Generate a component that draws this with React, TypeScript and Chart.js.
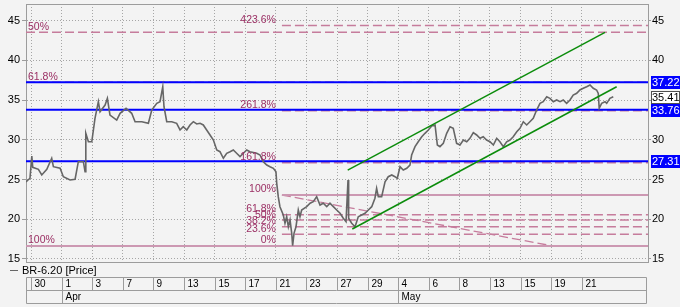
import React, { useEffect, useRef } from 'react';
import { Chart, registerables } from 'chart.js';

Chart.register(...registerables);

// ---- data ----
const dayIdx = [0, 2, 4, 6, 8, 10, 12, 14, 16, 18, 20, 22, 24, 26, 28, 30, 32, 34, 36];
const dayLabels = ['30', '1', '3', '7', '9', '13', '15', '17', '21', '23', '27', '29', '4', '6', '8', '13', '15', '19', '21'];
const monthIdx = [2, 24];
const monthLabels = ['Apr', 'May'];
const yTicks = [15, 20, 25, 30, 35, 40, 45];
const xMin = -0.33;
const xMax = 40.33;
const yMin = 14.62;
const yMax = 47.08;

const seriesName = 'BR-6.20 [Price]';

const priceX = [-0.33, -0.2, -0.07, 0.05, 0.11, 0.48, 0.7, 1.03, 1.35, 1.46, 1.9, 2.11, 2.55, 2.88, 3.09, 3.42, 3.53, 3.58, 3.75, 3.97, 4.18, 4.4, 4.51, 4.84, 4.99, 5.16, 5.6, 5.82, 6.21, 6.58, 6.8, 7.24, 7.67, 7.89, 8.22, 8.43, 8.61, 8.69, 8.87, 9.2, 9.52, 9.74, 9.95, 10.18, 10.39, 10.61, 10.83, 11.05, 11.26, 11.48, 11.7, 11.92, 12.14, 12.35, 12.57, 12.79, 13.01, 13.22, 13.44, 13.66, 13.88, 14.1, 14.31, 14.75, 14.97, 15.18, 15.41, 15.62, 15.84, 16.01, 16.06, 16.16, 16.27, 16.49, 16.6, 16.71, 16.82, 16.93, 17.04, 17.1, 17.19, 17.32, 17.47, 17.58, 17.69, 18.02, 18.24, 18.45, 18.67, 18.89, 19.1, 19.33, 19.54, 19.76, 19.98, 20.2, 20.41, 20.59, 20.72, 20.76, 20.96, 21.18, 21.39, 21.61, 21.83, 22.05, 22.27, 22.48, 22.59, 22.7, 22.92, 23.14, 23.35, 23.58, 23.79, 23.94, 24.12, 24.33, 24.56, 24.77, 24.88, 25.1, 25.31, 25.54, 25.75, 25.97, 26.19, 26.41, 26.56, 26.73, 26.95, 27.17, 27.39, 27.6, 27.82, 28.04, 28.26, 28.48, 28.69, 28.91, 29.13, 29.35, 29.56, 29.78, 30.0, 30.22, 30.44, 30.65, 30.87, 31.09, 31.31, 31.52, 31.75, 31.96, 32.18, 32.4, 32.61, 32.83, 33.05, 33.27, 33.48, 33.71, 33.92, 34.14, 34.36, 34.58, 34.79, 35.01, 35.23, 35.44, 35.67, 35.88, 36.1, 36.32, 36.54, 36.75, 36.97, 37.08, 37.14, 37.3, 37.52, 37.63, 37.84, 38.06];
const priceY = [24.69, 24.94, 25.15, 27.96, 26.53, 26.28, 25.57, 26.28, 27.67, 26.61, 26.41, 25.35, 24.94, 25.03, 27.24, 27.24, 25.98, 30.81, 29.75, 29.75, 32.7, 34.79, 33.53, 34.37, 35.21, 33.11, 32.48, 33.33, 33.96, 33.33, 32.27, 32.27, 32.07, 33.74, 34.58, 34.79, 36.67, 34.16, 32.27, 32.27, 32.07, 31.23, 31.64, 31.23, 31.86, 32.27, 31.98, 32.07, 31.86, 31.23, 30.6, 29.97, 28.71, 28.5, 27.67, 28.3, 28.5, 28.71, 28.3, 27.87, 28.3, 28.71, 28.5, 28.3, 28.08, 27.24, 26.82, 26.61, 26.41, 25.98, 24.52, 22.84, 21.58, 20.53, 19.49, 20.32, 19.06, 19.91, 18.23, 16.67, 18.23, 19.06, 21.16, 20.32, 21.16, 21.58, 22.01, 22.21, 22.84, 21.79, 22.01, 21.58, 22.01, 21.58, 21.16, 20.75, 20.12, 19.69, 24.94, 20.12, 19.49, 19.06, 20.32, 20.53, 20.75, 21.16, 21.58, 22.64, 23.89, 22.84, 22.84, 24.72, 25.35, 25.57, 25.35, 25.15, 26.61, 26.19, 26.41, 26.82, 28.08, 29.13, 29.75, 30.38, 30.81, 31.23, 31.73, 31.86, 29.34, 29.13, 29.55, 30.81, 31.64, 31.44, 29.55, 29.34, 29.97, 29.75, 30.18, 30.9, 30.6, 30.18, 30.38, 29.97, 29.75, 29.34, 30.18, 29.75, 29.13, 29.75, 29.97, 30.38, 31.01, 31.44, 32.27, 31.86, 32.27, 32.7, 33.74, 34.58, 34.79, 35.42, 35.21, 34.79, 35.0, 34.79, 35.0, 34.58, 35.0, 35.63, 35.84, 36.26, 36.47, 36.67, 36.89, 36.47, 36.26, 35.84, 33.96, 34.58, 34.79, 34.58, 35.21, 35.41];

const lastPrice = 35.41;
const blueLevels = [37.22, 33.76, 27.31];

const fibAStart = -0.33;
const fibALabels = ['100%', '61.8%', '50%'];
const fibAValues = [16.64, 37.22, 43.52];
const fibASolid = [true, false, false];

const fibBStart = 16.4;
const fibBLabels = ['0%', '23.6%', '38.2%', '50%', '61.8%', '100%', '161.8%', '261.8%', '423.6%'];
const fibBValues = [16.64, 18.1, 19.06, 19.9, 20.57, 23.05, 27.12, 33.66, 44.38];
const fibBSolid = [true, false, false, false, false, true, false, false, false];

const fanX = [16.4, 34.1];
const fanY = [23.05, 16.64];
const upperX = [20.7, 37.52];
const upperY = [26.19, 43.52];
const lowerX = [21.0, 38.28];
const lowerY = [18.77, 36.67];

// ---- styling ----
const FONT = "'Liberation Sans', Arial, sans-serif";
const BG = '#f3f3f3';
const GRID = '#a6a6a6';
const FRAME = '#9c9c9c';
const PINK_DASH = '#c67c9c';
const PINK_SOLID = '#cc98b2';
const PINK_TEXT = '#9b2f64';
const BLUE = '#0000ff';
const GREEN = '#0b8c0b';
const PRICE = '#666666';

function seg(xs: number[], ys: number[]) {
  return xs.map((x, i) => ({ x, y: ys[i] }));
}

const bgPlugin = {
  id: 'bg',
  beforeDraw(chart: any) {
    const ctx = chart.ctx;
    ctx.save();
    ctx.fillStyle = BG;
    ctx.fillRect(0, 0, chart.width, chart.height);
    ctx.restore();
  },
};

const overlayPlugin = {
  id: 'overlay',
  afterDraw(chart: any) {
    const ctx: CanvasRenderingContext2D = chart.ctx;
    const xs = chart.scales.x;
    const ys = chart.scales.y;
    const a = chart.chartArea;
    ctx.save();

    // frame top/bottom
    ctx.strokeStyle = FRAME;
    ctx.lineWidth = 1;
    ctx.setLineDash([]);
    ctx.beginPath();
    ctx.moveTo(a.left, Math.round(a.top) + 0.5);
    ctx.lineTo(a.right, Math.round(a.top) + 0.5);
    ctx.moveTo(a.left, Math.round(a.bottom) + 0.5);
    ctx.lineTo(a.right, Math.round(a.bottom) + 0.5);
    ctx.stroke();

    // fib labels
    ctx.font = `10.5px ${FONT}`;
    ctx.fillStyle = PINK_TEXT;
    ctx.textBaseline = 'alphabetic';
    ctx.textAlign = 'left';
    fibALabels.forEach((t, i) => {
      ctx.fillText(t, xs.getPixelForValue(fibAStart) + 2, ys.getPixelForValue(fibAValues[i]) - 2.5);
    });
    ctx.textAlign = 'right';
    fibBLabels.forEach((t, i) => {
      ctx.fillText(t, xs.getPixelForValue(fibBStart) - 6, ys.getPixelForValue(fibBValues[i]) - 2.5);
    });

    // value boxes on right axis
    ctx.font = `11px ${FONT}`;
    ctx.textAlign = 'left';
    ctx.textBaseline = 'middle';
    const bx = Math.round(a.right) + 3;
    const drawBox = (v: number, blue: boolean) => {
      const y = Math.round(ys.getPixelForValue(v));
      if (blue) {
        ctx.fillStyle = BLUE;
        ctx.fillRect(bx, y - 6, chart.width - bx, 13);
        ctx.fillStyle = '#ffffff';
      } else {
        ctx.fillStyle = '#ffffff';
        ctx.fillRect(bx, y - 6, chart.width - bx, 13);
        ctx.strokeStyle = '#505050';
        ctx.strokeRect(bx + 0.5, y - 5.5, chart.width - bx - 1, 12);
        ctx.fillStyle = '#000000';
      }
      ctx.fillText(v.toFixed(2), bx + 1, y + 0.5);
    };
    blueLevels.forEach((v) => drawBox(v, true));
    drawBox(lastPrice, false);

    // legend
    const ly = 270.5;
    ctx.strokeStyle = PRICE;
    ctx.lineWidth = 1;
    ctx.beginPath();
    ctx.moveTo(10, ly);
    ctx.lineTo(18, ly);
    ctx.stroke();
    ctx.fillStyle = '#000000';
    ctx.font = `11px ${FONT}`;
    ctx.textBaseline = 'middle';
    ctx.fillText(seriesName, 22, ly);

    // date bar
    const L = Math.round(a.left) + 0.5;
    const R = Math.round(a.right) - 1.5;
    const top = 277.5;
    const mid = 290.5;
    const bot = 303.5;
    ctx.strokeStyle = FRAME;
    ctx.beginPath();
    ctx.moveTo(L, top); ctx.lineTo(R, top);
    ctx.moveTo(L, mid); ctx.lineTo(R, mid);
    ctx.moveTo(L, bot); ctx.lineTo(R, bot);
    ctx.moveTo(L, top); ctx.lineTo(L, bot);
    ctx.moveTo(R, top); ctx.lineTo(R, bot);
    ctx.stroke();
    ctx.font = `10px ${FONT}`;
    ctx.fillStyle = '#000000';
    dayIdx.forEach((d, i) => {
      const x = Math.round(xs.getPixelForValue(d)) + 0.5;
      ctx.beginPath();
      ctx.moveTo(x, top); ctx.lineTo(x, mid);
      ctx.stroke();
      ctx.fillText(dayLabels[i], x + 3, (top + mid) / 2 + 0.5);
    });
    monthIdx.forEach((d, i) => {
      const x = Math.round(xs.getPixelForValue(d)) + 0.5;
      ctx.beginPath();
      ctx.moveTo(x, mid); ctx.lineTo(x, bot);
      ctx.stroke();
      ctx.fillText(monthLabels[i], x + 3, (mid + bot) / 2 + 0.5);
    });

    ctx.restore();
  },
};

export default function App() {
  const ref = useRef<HTMLCanvasElement | null>(null);

  useEffect(() => {
    if (!ref.current) return;
    Chart.defaults.font.family = FONT;

    const datasets: any[] = [];
    // channel lines (top)
    datasets.push({ data: seg(upperX, upperY), borderColor: GREEN, borderWidth: 1.5, order: 0 });
    datasets.push({ data: seg(lowerX, lowerY), borderColor: GREEN, borderWidth: 1.5, order: 0 });
    // price
    datasets.push({ label: seriesName, data: seg(priceX, priceY), borderColor: PRICE, borderWidth: 1.6, order: 1 });
    // blue horizontal levels
    blueLevels.forEach((v) => {
      datasets.push({ data: seg([xMin, xMax], [v, v]), borderColor: BLUE, borderWidth: 2, order: 2 });
    });
    // fib set A
    fibAValues.forEach((v, i) => {
      datasets.push({
        data: seg([fibAStart, xMax], [v, v]),
        borderColor: fibASolid[i] ? PINK_SOLID : PINK_DASH,
        borderWidth: fibASolid[i] ? 2 : 1.5,
        borderDash: fibASolid[i] ? [] : [9, 4],
        order: 3,
      });
    });
    // fib set B
    fibBValues.forEach((v, i) => {
      datasets.push({
        data: seg([fibBStart, xMax], [v, v]),
        borderColor: fibBSolid[i] ? PINK_SOLID : PINK_DASH,
        borderWidth: fibBSolid[i] ? 2 : 1.5,
        borderDash: fibBSolid[i] ? [] : [9, 4],
        order: 3,
      });
    });
    datasets.push({ data: seg(fanX, fanY), borderColor: PINK_DASH, borderWidth: 1.3, borderDash: [9, 4], order: 3 });

    datasets.forEach((d) => {
      d.pointRadius = 0;
      d.fill = false;
      d.tension = 0;
    });

    const chart = new Chart(ref.current, {
      type: 'line',
      data: { datasets },
      options: {
        animation: false,
        responsive: false,
        maintainAspectRatio: false,
        devicePixelRatio: 1,
        layout: { padding: { top: 4, bottom: 45, left: 0, right: 0 } },
        plugins: { legend: { display: false }, tooltip: { enabled: false } },
        scales: {
          x: {
            type: 'linear',
            min: xMin,
            max: xMax,
            afterBuildTicks: (s: any) => { s.ticks = dayIdx.map((v) => ({ value: v })); },
            afterFit: (s: any) => { s.height = 0; s.paddingLeft = 0; s.paddingRight = 0; },
            ticks: { display: false },
            grid: { color: GRID, drawTicks: false, lineWidth: 1 },
            border: { display: false, dash: [1, 2] },
          },
          y: {
            position: 'left',
            min: yMin,
            max: yMax,
            afterBuildTicks: (s: any) => { s.ticks = yTicks.map((v) => ({ value: v })); },
            afterFit: (s: any) => { s.width = 26; s.paddingTop = 0; s.paddingBottom = 0; },
            ticks: { color: '#000000', font: { size: 11, family: FONT }, padding: 2 },
            grid: { color: GRID, drawTicks: true, tickLength: 4, tickColor: FRAME, lineWidth: 1 },
            border: { display: true, color: FRAME, dash: [1, 2] },
          },
          y2: {
            position: 'right',
            min: yMin,
            max: yMax,
            afterBuildTicks: (s: any) => { s.ticks = yTicks.map((v) => ({ value: v })); },
            afterFit: (s: any) => { s.width = 32; s.paddingTop = 0; s.paddingBottom = 0; },
            ticks: { color: '#000000', font: { size: 11, family: FONT }, padding: 1 },
            grid: { drawOnChartArea: false, drawTicks: true, tickLength: 3, tickColor: FRAME },
            border: { display: true, color: FRAME },
          },
        },
      },
      plugins: [bgPlugin, overlayPlugin],
    });
    return () => chart.destroy();
  }, []);

  return (
    <div style={{ position: 'absolute', left: 0, top: 0, width: 680, height: 307 }}>
      <canvas ref={ref} width={680} height={307} style={{ display: 'block', width: 680, height: 307 }} />
    </div>
  );
}
